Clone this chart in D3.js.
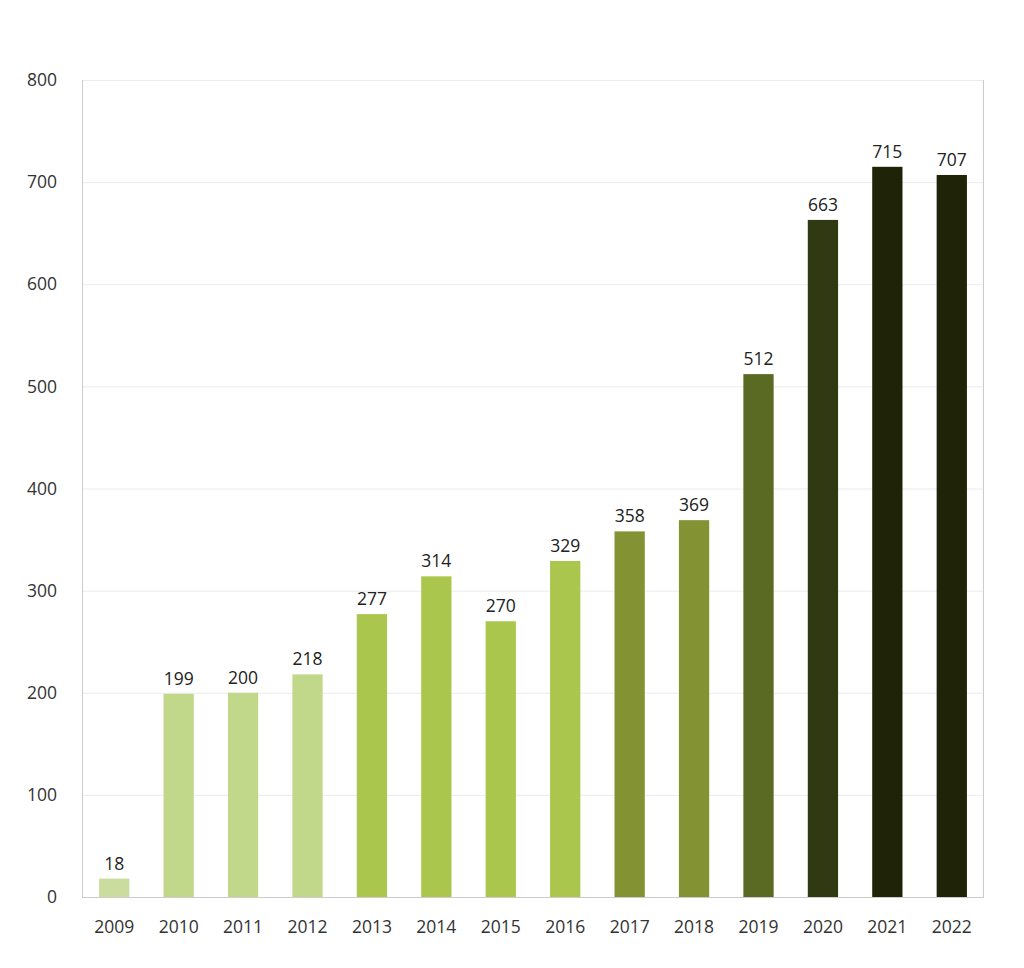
<!DOCTYPE html>
<html><head><meta charset="utf-8">
<script src="https://cdn.jsdelivr.net/npm/d3@7"></script>
<style>body{margin:0;background:#fff}text{font-family:"Open Sans",sans-serif}</style>
</head><body><svg id="c" width="1024" height="968"></svg>
<script>
const years = ["2009","2010","2011","2012","2013","2014","2015","2016","2017","2018","2019","2020","2021","2022"];
const values = [18,199,200,218,277,314,270,329,358,369,512,663,715,707];
const colors = ["#cbdc9f","#c1d88a","#c1d88a","#c1d88a","#aac64c","#aac64c","#aac64c","#aac64c","#839334","#839334","#5b6a23","#313912","#1f2409","#1f2409"];
const yTicks = [0,100,200,300,400,500,600,700,800];

const svg = d3.select("#c");
const L = 82, R = 984, T = 80, B = 897;
const FS = 17.5;
const x = d3.scaleBand().domain(years).range([L, R]).paddingInner(0.53).paddingOuter(0.265);
const y = d3.scaleLinear().domain([0, 800]).range([B, T]);

svg.append("g").selectAll("line").data(yTicks.filter(d => d > 0)).join("line")
  .attr("x1", L).attr("x2", R).attr("y1", d => y(d) + 0.5).attr("y2", d => y(d) + 0.5)
  .attr("stroke", "#ebebeb").attr("stroke-width", 1);

svg.append("g").selectAll("text").data(yTicks).join("text")
  .attr("x", 57).attr("y", d => y(d)).attr("dy", "0.35em").attr("text-anchor", "end")
  .attr("font-size", FS).attr("fill", "#333").text(d => d);

svg.append("g").selectAll("rect").data(values).join("rect")
  .attr("x", (d, i) => x(years[i])).attr("width", x.bandwidth())
  .attr("y", d => y(d)).attr("height", d => B - y(d))
  .attr("fill", (d, i) => colors[i]);

svg.append("g").selectAll("text").data(values).join("text")
  .attr("x", (d, i) => x(years[i]) + x.bandwidth() / 2).attr("y", d => y(d) - 9)
  .attr("text-anchor", "middle").attr("font-size", FS).attr("fill", "#222").text(d => d);

svg.append("g").selectAll("text").data(years).join("text")
  .attr("x", d => x(d) + x.bandwidth() / 2).attr("y", 933)
  .attr("text-anchor", "middle").attr("font-size", FS).attr("fill", "#333").text(d => d);

svg.append("line").attr("x1", L + 0.5).attr("x2", L + 0.5).attr("y1", T).attr("y2", B).attr("stroke", "#ccc");
svg.append("line").attr("x1", R - 0.5).attr("x2", R - 0.5).attr("y1", T).attr("y2", B).attr("stroke", "#ccc");
svg.append("line").attr("x1", L).attr("x2", R).attr("y1", B + 0.5).attr("y2", B + 0.5).attr("stroke", "#ccc");
</script></body></html>
